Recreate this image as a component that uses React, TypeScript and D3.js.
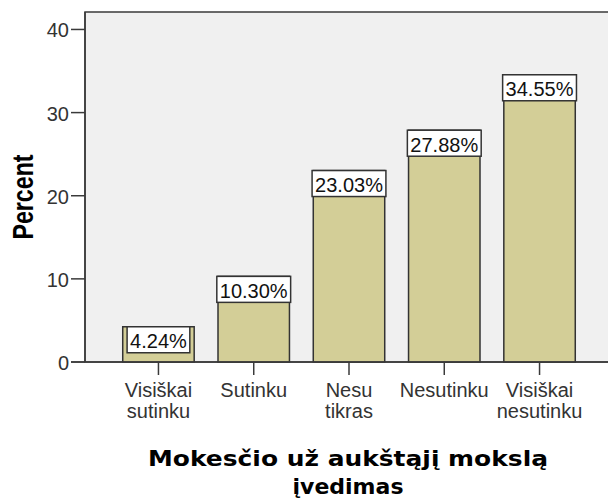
import React from 'react'
import * as d3 from 'd3'

const categories = ['Visiškai sutinku', 'Sutinku', 'Nesu tikras', 'Nesutinku', 'Visiškai nesutinku']
const categoryLines = [['Visiškai', 'sutinku'], ['Sutinku'], ['Nesu', 'tikras'], ['Nesutinku'], ['Visiškai', 'nesutinku']]
const percents = [4.24, 10.3, 23.03, 27.88, 34.55]
const yTicks = [0, 10, 20, 30, 40]
const yTitle = 'Percent'
const xTitleLines = ['Mokesčio už aukštąjį mokslą', 'įvedimas']

const W = 608
const H = 503
const left = 85
const top = 12
const bottom = 362
const right = 613

const labelFont = '20px "Liberation Sans", Arial, sans-serif'

function textWidth(s: string) {
	const c = document.createElement('canvas').getContext('2d')
	if (!c) return s.length * 11
	c.font = labelFont
	return c.measureText(s).width
}

export default function App() {
	const x = d3.scaleBand<string>()
		.domain(categories)
		.range([left, right])
		.paddingInner(0.25)
		.paddingOuter(0.396)

	const y = d3.scaleLinear().domain([0, 42.1]).range([bottom, top])

	const data = categories.map((c, i) => ({ c, v: percents[i], lines: categoryLines[i] }))

	return (
		<svg width={W} height={H} style={{ position: 'absolute', left: 0, top: 0, background: '#fff' }}
			fontFamily='"Liberation Sans", Arial, sans-serif'>
			{/* plot background */}
			<rect x={left} y={top} width={W - left + 10} height={bottom - top} fill="#f0f0f0" stroke="#3a3a3a" strokeWidth={1.5} />

			{/* bars */}
			{data.map((d) => (
				<rect key={d.c} x={x(d.c)} y={y(d.v)} width={x.bandwidth()} height={bottom - y(d.v)}
					fill="#d3ce97" stroke="#333" strokeWidth={1.5} />
			))}

			{/* value labels */}
			{data.map((d) => {
				const txt = d.v.toFixed(2) + '%'
				const bw = textWidth(txt) + 6
				const cx = (x(d.c) as number) + x.bandwidth() / 2
				return (
					<g key={'l' + d.c}>
						<rect x={cx - bw / 2} y={y(d.v)} width={bw} height={26} fill="#fff" stroke="#333" strokeWidth={1.5} />
						<text x={cx} y={y(d.v) + 21.5} textAnchor="middle" fontSize={20} fill="#111">{txt}</text>
					</g>
				)
			})}

			{/* y axis */}
			<line x1={left} x2={left} y1={top} y2={bottom} stroke="#3a3a3a" strokeWidth={1.5} />
			{yTicks.map((t) => (
				<g key={t}>
					<line x1={left - 14} x2={left} y1={y(t)} y2={y(t)} stroke="#3a3a3a" strokeWidth={1.5} />
					<text x={left - 16} y={y(t) + 8} textAnchor="end" fontSize={20} fill="#333">{t}</text>
				</g>
			))}

			{/* x axis */}
			<line x1={left - 14} x2={W} y1={bottom} y2={bottom} stroke="#3a3a3a" strokeWidth={1.5} />
			{data.map((d) => {
				const cx = (x(d.c) as number) + x.bandwidth() / 2
				return (
					<g key={'t' + d.c}>
						<line x1={cx} x2={cx} y1={bottom} y2={bottom + 13} stroke="#3a3a3a" strokeWidth={1.5} />
						{d.lines.map((ln, j) => (
							<text key={j} x={cx} y={397 + j * 21} textAnchor="middle" fontSize={20} fill="#333">{ln}</text>
						))}
					</g>
				)
			})}

			{/* axis titles */}
			<text transform="translate(33,197) rotate(-90)" textAnchor="middle" fontSize={29} fontWeight="bold"
				fill="#000" textLength={85} lengthAdjust="spacingAndGlyphs">{yTitle}</text>
			{xTitleLines.map((ln, i) => (
				<text key={i} x={348} y={466 + i * 28} textAnchor="middle" fontWeight="bold" fontSize={22}
					fontFamily='"DejaVu Sans", Verdana, sans-serif' fill="#000"
					textLength={i === 0 ? 400 : undefined} lengthAdjust="spacingAndGlyphs">{ln}</text>
			))}
		</svg>
	)
}
